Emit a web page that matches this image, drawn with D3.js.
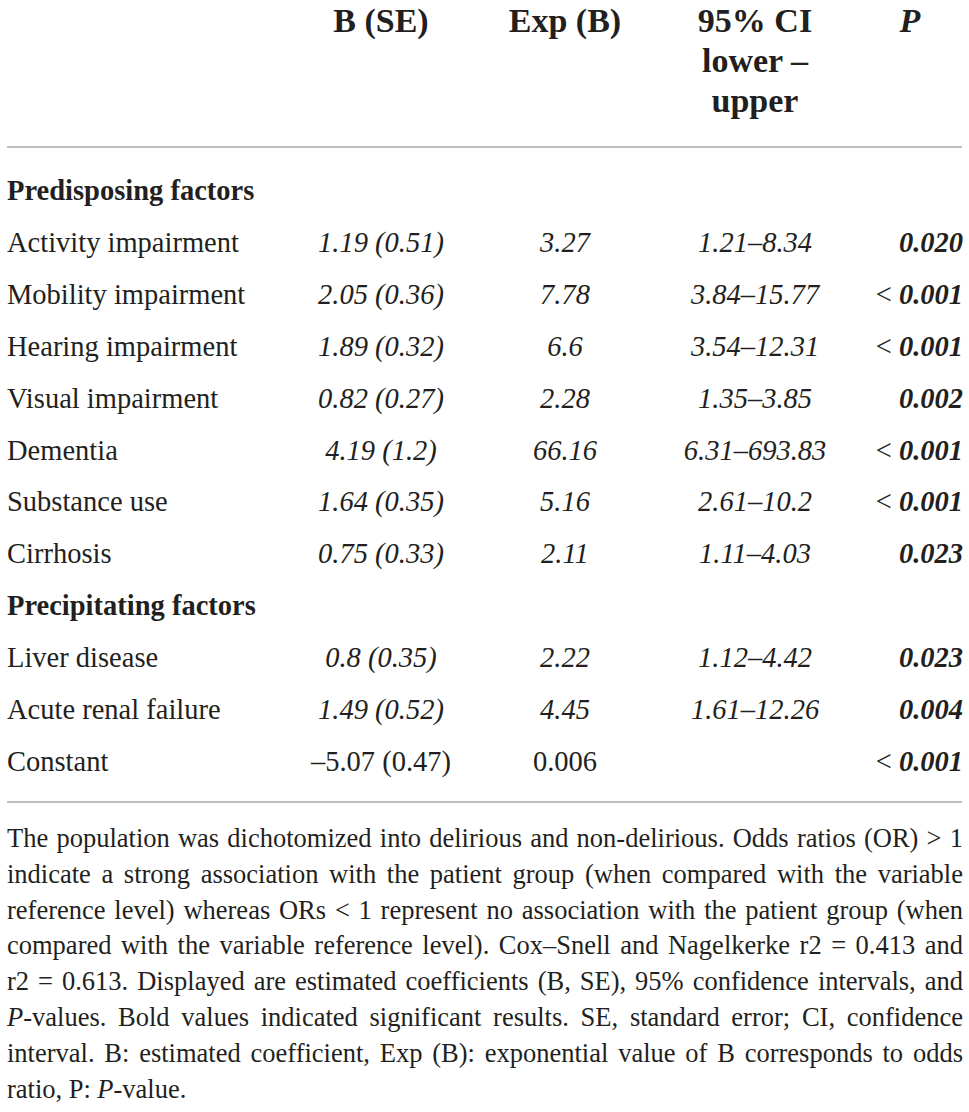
<!DOCTYPE html>
<html>
<head>
<meta charset="utf-8">
<script src="https://cdn.jsdelivr.net/npm/d3@7"></script>
<style>
  body { margin: 0; background: #fff; }
  svg { display: block; }
</style>
</head>
<body>
<svg id="chart"></svg>
<script>
// Table values
const sectionTitles = ["Predisposing factors", "Precipitating factors"];
const variables = ["Activity impairment", "Mobility impairment", "Hearing impairment", "Visual impairment",
    "Dementia", "Substance use", "Cirrhosis", "Liver disease", "Acute renal failure", "Constant"];
const variableSection = [0, 0, 0, 0, 0, 0, 0, 1, 1, 1];
const bSe = ["1.19 (0.51)", "2.05 (0.36)", "1.89 (0.32)", "0.82 (0.27)", "4.19 (1.2)",
    "1.64 (0.35)", "0.75 (0.33)", "0.8 (0.35)", "1.49 (0.52)", "–5.07 (0.47)"];
const expB = ["3.27", "7.78", "6.6", "2.28", "66.16", "5.16", "2.11", "2.22", "4.45", "0.006"];
const ciRange = ["1.21–8.34", "3.84–15.77", "3.54–12.31", "1.35–3.85", "6.31–693.83",
    "2.61–10.2", "1.11–4.03", "1.12–4.42", "1.61–12.26", ""];
const pValue = ["0.020", "0.001", "0.001", "0.002", "0.001", "0.001", "0.023", "0.023", "0.004", "0.001"];
const pBelow = [false, true, true, false, true, true, false, false, false, true];
const italicValues = [true, true, true, true, true, true, true, true, true, false];
const headerKeys = ["b", "exp", "ci", "p"];
const headerLabels = [["B (SE)"], ["Exp (B)"], ["95% CI", "lower –", "upper"], ["P"]];
const noteLines = [
    "The population was dichotomized into delirious and non-delirious. Odds ratios (OR) > 1",
    "indicate a strong association with the patient group (when compared with the variable",
    "reference level) whereas ORs < 1 represent no association with the patient group (when",
    "compared with the variable reference level). Cox–Snell and Nagelkerke r2 = 0.413 and",
    "r2 = 0.613. Displayed are estimated coefficients (B, SE), 95% confidence intervals, and",
    "_P_-values. Bold values indicated significant results. SE, standard error; CI, confidence",
    "interval. B: estimated coefficient, Exp (B): exponential value of B corresponds to odds",
    "ratio, P: _P_-value."
];

const width = 969, height = 1112,
    left = 7, right = 962,
    ink = "#231f20", ruleColor = "#a7a9ac",
    font = "'Liberation Serif', 'Times New Roman', serif";

const svg = d3.select("#chart")
    .attr("width", width)
    .attr("height", height)
    .style("font-family", font)
    .style("fill", ink);

// column positions (centre for value columns, right edge for P)
const x = d3.scaleOrdinal()
    .domain(["b", "exp", "ci", "p", "pHead"])
    .range([381, 565, 755, 963, 910]);

// build the list of lines: section titles followed by their rows
const lines = [];
sectionTitles.forEach((title, s) => {
    lines.push({ type: "section", label: title });
    variables.forEach((v, i) => {
        if (variableSection[i] === s) lines.push({ type: "row", i: i });
    });
});

const y = d3.scalePoint()
    .domain(d3.range(lines.length))
    .range([200, 771]);

// header
const head = svg.append("g")
    .style("font-size", "34px")
    .style("font-weight", "bold");

headerKeys.forEach((key, k) => {
    headerLabels[k].forEach((label, j) => {
        head.append("text")
            .attr("x", key === "p" ? x("pHead") : x(key))
            .attr("y", 32 + j * 40)
            .attr("text-anchor", "middle")
            .style("font-style", key === "p" ? "italic" : "normal")
            .text(label);
    });
});

svg.append("line")
    .attr("x1", left).attr("x2", right)
    .attr("y1", 147).attr("y2", 147)
    .style("stroke", ruleColor)
    .style("stroke-width", 1.5);

// body
const body = svg.append("g").style("font-size", "28.5px");

lines.forEach((d, k) => {
    const yy = y(k);
    if (d.type === "section") {
        body.append("text")
            .attr("x", left)
            .attr("y", yy)
            .style("font-weight", "bold")
            .text(d.label);
        return;
    }
    const i = d.i;
    const style = italicValues[i] ? "italic" : "normal";

    body.append("text")
        .attr("x", left)
        .attr("y", yy)
        .text(variables[i]);

    body.append("text")
        .attr("x", x("b"))
        .attr("y", yy)
        .attr("text-anchor", "middle")
        .style("font-style", style)
        .text(bSe[i]);

    body.append("text")
        .attr("x", x("exp"))
        .attr("y", yy)
        .attr("text-anchor", "middle")
        .style("font-style", style)
        .text(expB[i]);

    if (ciRange[i]) {
        body.append("text")
            .attr("x", x("ci"))
            .attr("y", yy)
            .attr("text-anchor", "middle")
            .style("font-style", style)
            .text(ciRange[i]);
    }

    const p = body.append("text")
        .attr("x", x("p"))
        .attr("y", yy)
        .attr("text-anchor", "end");
    if (pBelow[i]) p.append("tspan").text("< ");
    p.append("tspan")
        .style("font-weight", "bold")
        .style("font-style", "italic")
        .text(pValue[i]);
});

svg.append("line")
    .attr("x1", left).attr("x2", right)
    .attr("y1", 802).attr("y2", 802)
    .style("stroke", ruleColor)
    .style("stroke-width", 1.5);

// footnote, justified line by line like the original
const note = svg.append("g").style("font-size", "26.5px");
const noteWidth = 963 - left;

noteLines.forEach((line, li) => {
    const yy = 847 + li * 35.8;
    const words = line.split(" ").map(w => {
        const t = note.append("text").attr("y", yy);
        w.split("_").forEach((seg, si) => {
            if (!seg) return;
            t.append("tspan")
                .style("font-style", si % 2 ? "italic" : "normal")
                .text(seg);
        });
        return { node: t, w: t.node().getComputedTextLength() };
    });
    const total = d3.sum(words, d => d.w);
    const last = li === noteLines.length - 1;
    const gap = last ? 6.5 : (noteWidth - total) / (words.length - 1);
    let xx = left;
    words.forEach(d => {
        d.node.attr("x", xx);
        xx += d.w + gap;
    });
});
</script>
</body>
</html>
